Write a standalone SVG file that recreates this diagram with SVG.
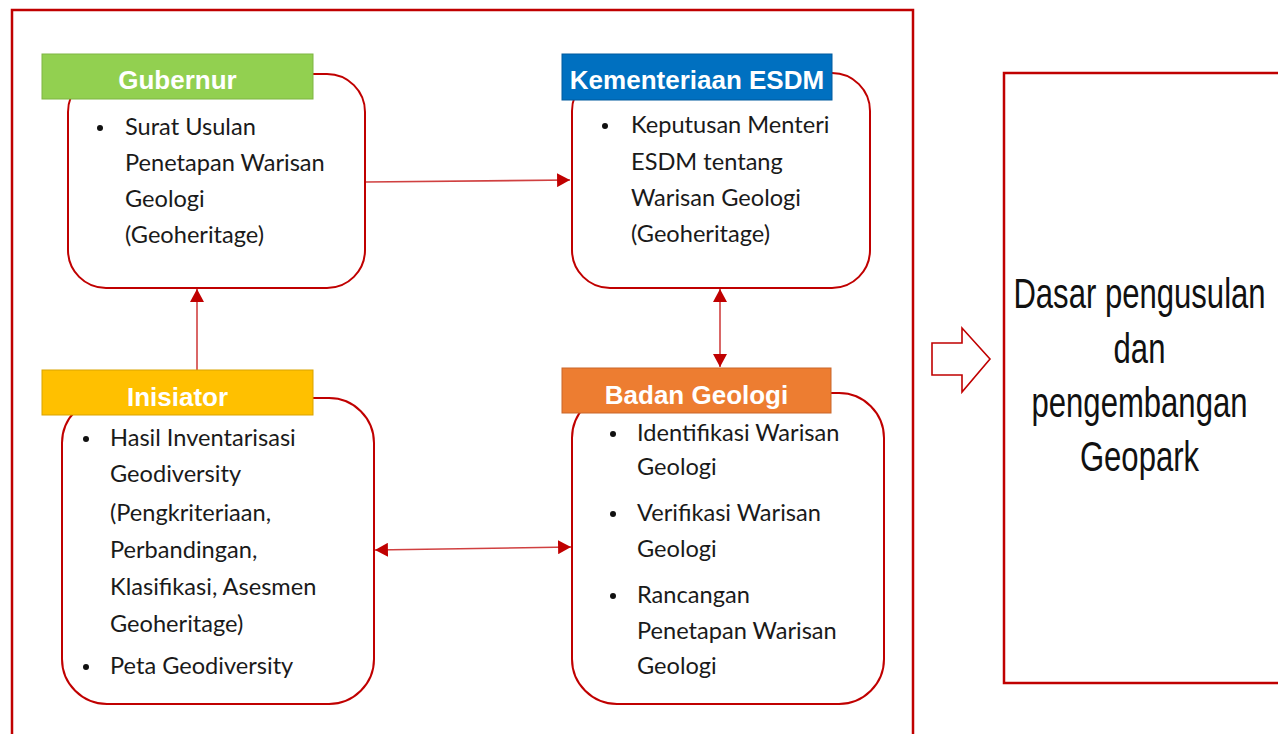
<svg xmlns="http://www.w3.org/2000/svg" width="1278" height="734" viewBox="0 0 1278 734">
<defs>
<marker id="ah" markerUnits="userSpaceOnUse" markerWidth="14" markerHeight="14" viewBox="0 0 12 13" refX="12" refY="6.5" orient="auto-start-reverse">
<path d="M0,0 L12,6.5 L0,13 Z" fill="#C00000"/>
</marker>
<style>
.frame{fill:none;stroke:#C00000;stroke-width:2.5}
.box{fill:#fff;stroke:#C00000;stroke-width:2}
.hdr{stroke-width:1}
.ht{font-family:"Liberation Sans",Arial,sans-serif;font-weight:bold;font-size:26px;fill:#fff;text-anchor:middle}
.bt{font-family:Lato,"Open Sans",sans-serif;font-size:23.6px;fill:#1a1a1a}
.bul{fill:#111}
.con{fill:none;stroke:#C00000;stroke-opacity:0.75;stroke-width:1.6}
.big{font-family:"Liberation Sans",Arial,sans-serif;font-size:42px;fill:#111;text-anchor:middle}
</style>
</defs>
<rect width="1278" height="734" fill="#fff"/>
<rect id="outer-frame" class="frame" x="12" y="10" width="901" height="760"/>

<g id="connectors">
<line class="con" x1="366" y1="182" x2="570" y2="180" marker-end="url(#ah)"/>
<line class="con" x1="197" y1="370" x2="197" y2="289" marker-end="url(#ah)"/>
<line class="con" x1="720" y1="289" x2="720" y2="367" marker-start="url(#ah)" marker-end="url(#ah)"/>
<line class="con" x1="375" y1="550" x2="571" y2="547" marker-start="url(#ah)" marker-end="url(#ah)"/>
</g>

<g id="gubernur">
<rect class="box" x="68" y="74" width="297" height="214" rx="38" ry="38"/>
<rect class="hdr" x="42" y="54" width="271" height="45" fill="#92D050" stroke="#7FB542"/>
<text class="ht" x="177.5" y="89">Gubernur</text>
<circle class="bul" cx="100" cy="128" r="3"/>
<text class="bt" x="125" y="135">Surat Usulan</text>
<text class="bt" x="125" y="171">Penetapan Warisan</text>
<text class="bt" x="125" y="207">Geologi</text>
<text class="bt" x="125" y="243">(Geoheritage)</text>
</g>

<g id="kementerian">
<rect class="box" x="572" y="73" width="298" height="215" rx="38" ry="38"/>
<rect class="hdr" x="562" y="54" width="270" height="46" fill="#0070C0" stroke="#005A9E"/>
<text class="ht" x="697" y="89">Kementeriaan ESDM</text>
<circle class="bul" cx="605" cy="126" r="3"/>
<text class="bt" x="631" y="133">Keputusan Menteri</text>
<text class="bt" x="631" y="170">ESDM tentang</text>
<text class="bt" x="631" y="206">Warisan Geologi</text>
<text class="bt" x="631" y="242">(Geoheritage)</text>
</g>

<g id="inisiator">
<rect class="box" x="62" y="398" width="312" height="306" rx="45" ry="45"/>
<rect class="hdr" x="42" y="370" width="271" height="45" fill="#FFC000" stroke="#D9A300"/>
<text class="ht" x="177.5" y="406">Inisiator</text>
<circle class="bul" cx="86" cy="439" r="3"/>
<text class="bt" x="110" y="446">Hasil Inventarisasi</text>
<text class="bt" x="110" y="482">Geodiversity</text>
<text class="bt" x="110" y="521">(Pengkriteriaan,</text>
<text class="bt" x="110" y="558">Perbandingan,</text>
<text class="bt" x="110" y="595">Klasifikasi, Asesmen</text>
<text class="bt" x="110" y="632">Geoheritage)</text>
<circle class="bul" cx="86" cy="667" r="3"/>
<text class="bt" x="110" y="674">Peta Geodiversity</text>
</g>

<g id="badan-geologi">
<rect class="box" x="572" y="393" width="312" height="311" rx="45" ry="45"/>
<rect class="hdr" x="562" y="368" width="269" height="45" fill="#ED7D31" stroke="#C9662A"/>
<text class="ht" x="696.5" y="404">Badan Geologi</text>
<circle class="bul" cx="613" cy="434" r="3"/>
<text class="bt" x="637" y="441">Identifikasi Warisan</text>
<text class="bt" x="637" y="475">Geologi</text>
<circle class="bul" cx="613" cy="514" r="3"/>
<text class="bt" x="637" y="521">Verifikasi Warisan</text>
<text class="bt" x="637" y="557">Geologi</text>
<circle class="bul" cx="613" cy="596" r="3"/>
<text class="bt" x="637" y="603">Rancangan</text>
<text class="bt" x="637" y="639">Penetapan Warisan</text>
<text class="bt" x="637" y="674">Geologi</text>
</g>

<g id="block-arrow">
<path d="M932,343 L962,343 L962,328 L990,359 L962,392 L962,375 L932,375 Z" fill="#fff" stroke="#C00000" stroke-width="1.6"/>
</g>

<g id="geopark">
<rect x="1004" y="73" width="280" height="610" fill="#fff" stroke="#C00000" stroke-width="2.5"/>
<g transform="translate(1139.5,0) scale(0.74,1)">
<text class="big" x="0" y="308">Dasar pengusulan</text>
<text class="big" x="0" y="363">dan</text>
<text class="big" x="0" y="417">pengembangan</text>
<text class="big" x="0" y="471">Geopark</text>
</g>
</g>
</svg>
